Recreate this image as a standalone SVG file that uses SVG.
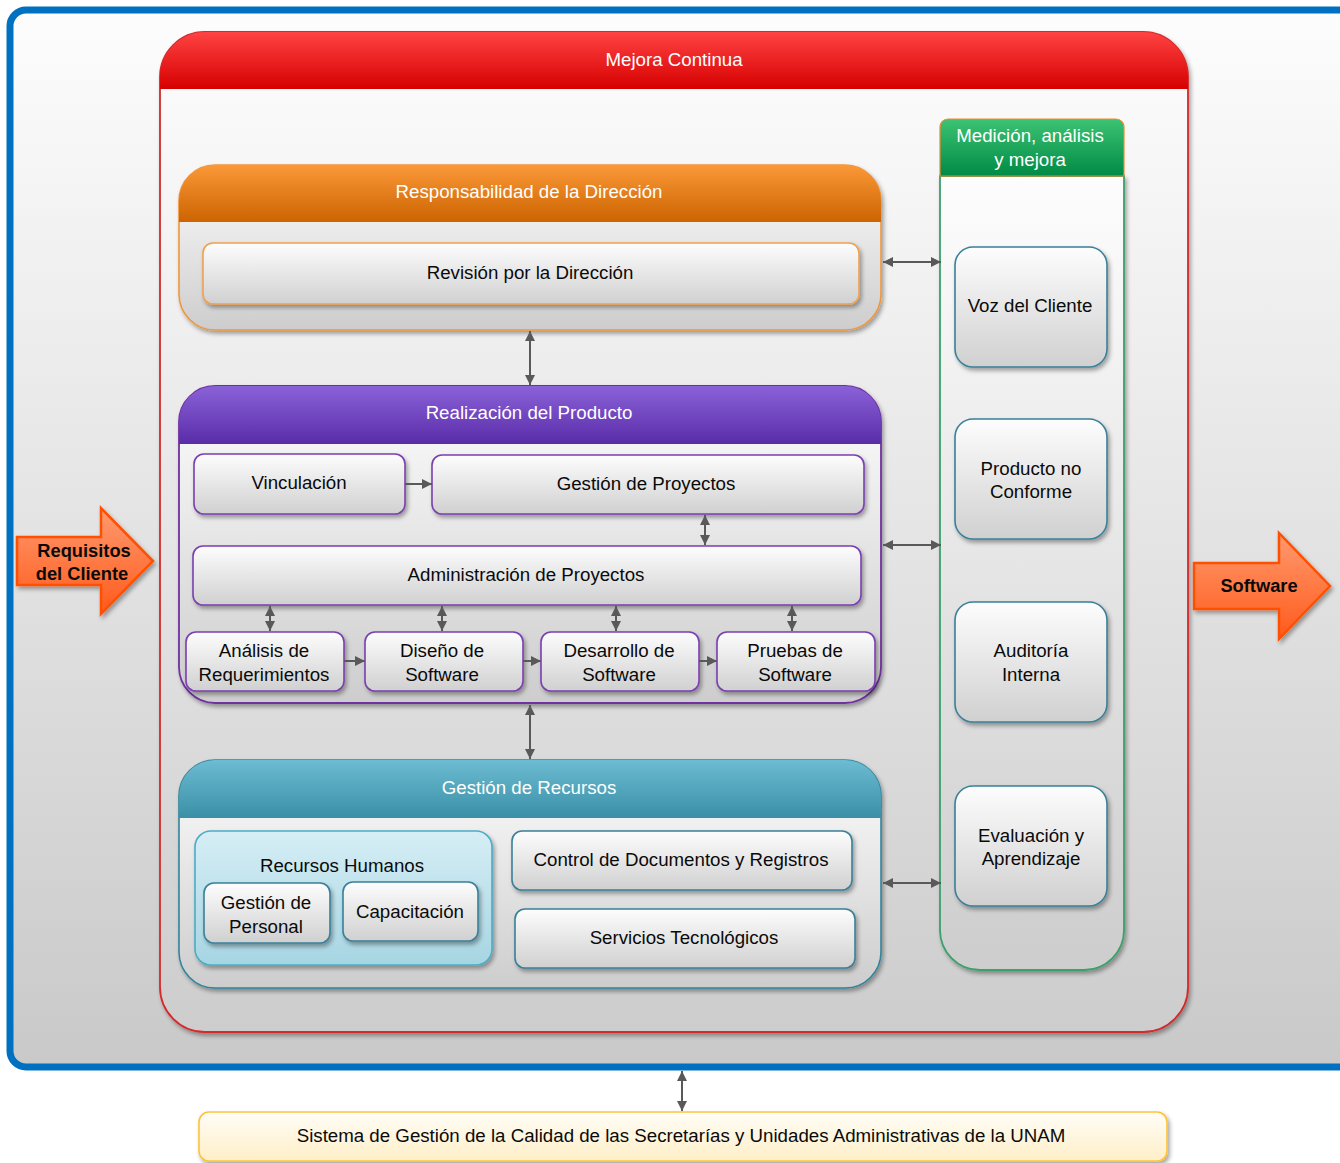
<svg xmlns="http://www.w3.org/2000/svg" width="1340" height="1163" viewBox="0 0 1340 1163">
<defs>
<linearGradient id="gBg" x1="0" y1="0" x2="0" y2="1"><stop offset="0" stop-color="#fdfdfd"/><stop offset="1" stop-color="#c9c9c9"/></linearGradient>
<linearGradient id="gBody" x1="0" y1="0" x2="0" y2="1"><stop offset="0" stop-color="#fdfdfd"/><stop offset="1" stop-color="#cdcdcd"/></linearGradient>
<linearGradient id="gNode" x1="0" y1="0" x2="0" y2="1"><stop offset="0" stop-color="#fdfdfd"/><stop offset="1" stop-color="#d0d0d0"/></linearGradient>
<linearGradient id="gRed" x1="0" y1="0" x2="0" y2="1"><stop offset="0" stop-color="#ff4343"/><stop offset="1" stop-color="#d60000"/></linearGradient>
<linearGradient id="gOrange" x1="0" y1="0" x2="0" y2="1"><stop offset="0" stop-color="#fb9838"/><stop offset="1" stop-color="#cc6400"/></linearGradient>
<linearGradient id="gPurple" x1="0" y1="0" x2="0" y2="1"><stop offset="0" stop-color="#8a62d8"/><stop offset="1" stop-color="#5a2ca8"/></linearGradient>
<linearGradient id="gGreen" x1="0" y1="0" x2="0" y2="1"><stop offset="0" stop-color="#3cc373"/><stop offset="1" stop-color="#008a45"/></linearGradient>
<linearGradient id="gTeal" x1="0" y1="0" x2="0" y2="1"><stop offset="0" stop-color="#6cbcd2"/><stop offset="1" stop-color="#3a8fa6"/></linearGradient>
<linearGradient id="gRH" x1="0" y1="0" x2="0" y2="1"><stop offset="0" stop-color="#d6eef5"/><stop offset="1" stop-color="#a6d5e2"/></linearGradient>
<linearGradient id="gYellow" x1="0" y1="0" x2="0" y2="1"><stop offset="0" stop-color="#fffdf7"/><stop offset="1" stop-color="#ffefc8"/></linearGradient>
<linearGradient id="gArrow" x1="0" y1="0" x2="0" y2="1"><stop offset="0" stop-color="#ff9a70"/><stop offset="0.5" stop-color="#ff7a45"/><stop offset="1" stop-color="#ff5a1c"/></linearGradient>
<filter id="sh" x="-10%" y="-10%" width="130%" height="140%"><feDropShadow dx="2" dy="3" stdDeviation="2" flood-color="#000" flood-opacity="0.35"/></filter>
<marker id="ah" viewBox="0 0 10 10" refX="10" refY="5" markerWidth="11" markerHeight="10" markerUnits="userSpaceOnUse" orient="auto-start-reverse"><path d="M0,0 L10,5 L0,10 Z" fill="#595959"/></marker>
<style>
.hdr{font-family:"Liberation Sans",Arial,sans-serif;font-size:18.7px;fill:#ffffff;text-anchor:middle}
.t{font-family:"Liberation Sans",Arial,sans-serif;font-size:18.7px;fill:#0a0a0a;text-anchor:middle}
.tb{font-family:"Liberation Sans",Arial,sans-serif;font-size:18.3px;font-weight:bold;fill:#0a0a0a;text-anchor:middle}
.node{fill:url(#gNode);filter:url(#sh)}
.np{stroke:#7a3fb0;stroke-width:1.6}
.nt{stroke:#3a8098;stroke-width:1.6}
.conn{stroke:#595959;stroke-width:2;fill:none;marker-end:url(#ah);marker-start:url(#ah)}
.conn1{stroke:#595959;stroke-width:2;fill:none;marker-end:url(#ah)}
</style>
</defs>

<rect x="0" y="0" width="1340" height="1163" fill="#ffffff"/>

<g id="frame">
<rect x="10" y="10" width="1380" height="1057" rx="16" fill="url(#gBg)" stroke="#0070c0" stroke-width="7"/>
</g>

<g id="mejora">
<rect x="160" y="32" width="1028" height="1000" rx="45" fill="url(#gBody)" stroke="#d42a2a" stroke-width="1.8" filter="url(#sh)"/>
<path d="M160,89 L160,77 A45,45 0 0 1 205,32 L1143,32 A45,45 0 0 1 1188,77 L1188,89 Z" fill="url(#gRed)"/>
<text class="hdr" x="674" y="66">Mejora Continua</text>
</g>

<g id="responsabilidad">
<rect x="179" y="165" width="702" height="165" rx="36" fill="url(#gBody)" stroke="#f0963c" stroke-width="1.6" filter="url(#sh)"/>
<path d="M179,222 L179,201 A36,36 0 0 1 215,165 L845,165 A36,36 0 0 1 881,201 L881,222 Z" fill="url(#gOrange)"/>
<text class="hdr" x="529" y="198">Responsabilidad de la Dirección</text>
</g>
<g id="revision">
<rect class="node" x="203" y="243" width="656" height="61" rx="10" stroke="#f0a050" stroke-width="1.6"/>
<text class="t" x="530" y="279">Revisión por la Dirección</text>
</g>

<g id="realizacion">
<rect x="179" y="386" width="702" height="317" rx="36" fill="url(#gBody)" stroke="#7030a0" stroke-width="1.8" filter="url(#sh)"/>
<path d="M179,444 L179,422 A36,36 0 0 1 215,386 L845,386 A36,36 0 0 1 881,422 L881,444 Z" fill="url(#gPurple)"/>
<text class="hdr" x="529" y="419">Realización del Producto</text>
</g>
<g id="vinculacion"><rect class="node np" x="194" y="454" width="211" height="60" rx="10"/><text class="t" x="299" y="489">Vinculación</text></g>
<g id="gestion-proyectos"><rect class="node np" x="432" y="455" width="432" height="59" rx="10"/><text class="t" x="646" y="490">Gestión de Proyectos</text></g>
<g id="administracion"><rect class="node np" x="193" y="546" width="668" height="59" rx="10"/><text class="t" x="526" y="581">Administración de Proyectos</text></g>
<g id="analisis"><rect class="node np" x="186" y="632" width="158" height="59" rx="10"/><text class="t" x="264" y="657">Análisis de</text><text class="t" x="264" y="681">Requerimientos</text></g>
<g id="diseno"><rect class="node np" x="365" y="632" width="158" height="59" rx="10"/><text class="t" x="442" y="657">Diseño de</text><text class="t" x="442" y="681">Software</text></g>
<g id="desarrollo"><rect class="node np" x="541" y="632" width="158" height="59" rx="10"/><text class="t" x="619" y="657">Desarrollo de</text><text class="t" x="619" y="681">Software</text></g>
<g id="pruebas"><rect class="node np" x="717" y="632" width="158" height="59" rx="10"/><text class="t" x="795" y="657">Pruebas de</text><text class="t" x="795" y="681">Software</text></g>

<g id="recursos">
<rect x="179" y="760" width="702" height="228" rx="36" fill="url(#gBody)" stroke="#31849b" stroke-width="1.6" filter="url(#sh)"/>
<path d="M179,818 L179,796 A36,36 0 0 1 215,760 L845,760 A36,36 0 0 1 881,796 L881,818 Z" fill="url(#gTeal)"/>
<text class="hdr" x="529" y="794">Gestión de Recursos</text>
</g>
<g id="recursos-humanos">
<rect x="195" y="831" width="297" height="134" rx="16" fill="url(#gRH)" stroke="#4bacc6" stroke-width="1.6" filter="url(#sh)"/>
<text class="t" x="342" y="872">Recursos Humanos</text>
</g>
<g id="gestion-personal"><rect class="node nt" x="204" y="883" width="126" height="60" rx="10"/><text class="t" x="266" y="909">Gestión de</text><text class="t" x="266" y="933">Personal</text></g>
<g id="capacitacion"><rect class="node nt" x="343" y="882" width="135" height="59" rx="10"/><text class="t" x="410" y="918">Capacitación</text></g>
<g id="control"><rect class="node nt" x="512" y="831" width="340" height="59" rx="10"/><text class="t" x="681" y="866">Control de Documentos y Registros</text></g>
<g id="servicios"><rect class="node nt" x="515" y="909" width="340" height="59" rx="10"/><text class="t" x="684" y="944">Servicios Tecnológicos</text></g>

<g id="medicion">
<path d="M940,176 L940,930 A40,40 0 0 0 980,970 L1084,970 A40,40 0 0 0 1124,930 L1124,176 Z" fill="url(#gBody)" stroke="#3aa06a" stroke-width="1.8" filter="url(#sh)"/>
<path d="M940,176 L940,127 A8,8 0 0 1 948,119 L1116,119 A8,8 0 0 1 1124,127 L1124,176 Z" fill="url(#gGreen)" stroke="#f08a30" stroke-width="1.2"/>
<text class="hdr" x="1030" y="142">Medición, análisis</text>
<text class="hdr" x="1030" y="166">y mejora</text>
</g>
<g id="voz"><rect class="node nt" x="955" y="247" width="152" height="120" rx="18"/><text class="t" x="1030" y="312">Voz del Cliente</text></g>
<g id="producto"><rect class="node nt" x="955" y="419" width="152" height="120" rx="18"/><text class="t" x="1031" y="475">Producto no</text><text class="t" x="1031" y="498">Conforme</text></g>
<g id="auditoria"><rect class="node nt" x="955" y="602" width="152" height="120" rx="18"/><text class="t" x="1031" y="657">Auditoría</text><text class="t" x="1031" y="681">Interna</text></g>
<g id="evaluacion"><rect class="node nt" x="955" y="786" width="152" height="120" rx="18"/><text class="t" x="1031" y="842">Evaluación y</text><text class="t" x="1031" y="865">Aprendizaje</text></g>

<g id="requisitos">
<polygon points="17,537 101,537 101,508 153,561 101,614 101,585 17,585" fill="url(#gArrow)" stroke="#ff5000" stroke-width="2.5" stroke-linejoin="miter" filter="url(#sh)"/>
<text class="tb" x="84" y="557">Requisitos</text>
<text class="tb" x="82" y="580">del Cliente</text>
</g>
<g id="software">
<polygon points="1194,563 1279,563 1279,533 1330,586 1279,639 1279,609 1194,609" fill="url(#gArrow)" stroke="#ff5000" stroke-width="2.5" filter="url(#sh)"/>
<text class="tb" x="1259" y="592">Software</text>
</g>

<g id="sistema">
<rect x="199" y="1112" width="968" height="49" rx="10" fill="url(#gYellow)" stroke="#ffc33a" stroke-width="1.6" filter="url(#sh)"/>
<text class="t" x="681" y="1142">Sistema de Gestión de la Calidad de las Secretarías y Unidades Administrativas de la UNAM</text>
</g>

<g id="connectors">
<line class="conn" x1="530" y1="331" x2="530" y2="385"/>
<line class="conn" x1="530" y1="705" x2="530" y2="759"/>
<line class="conn" x1="883" y1="262" x2="941" y2="262"/>
<line class="conn" x1="883" y1="545" x2="941" y2="545"/>
<line class="conn" x1="883" y1="883" x2="941" y2="883"/>
<line class="conn1" x1="405" y1="484" x2="432" y2="484"/>
<line class="conn" x1="705" y1="515" x2="705" y2="545"/>
<line class="conn" x1="270" y1="606" x2="270" y2="631"/>
<line class="conn" x1="442" y1="606" x2="442" y2="631"/>
<line class="conn" x1="616" y1="606" x2="616" y2="631"/>
<line class="conn" x1="792" y1="606" x2="792" y2="631"/>
<line class="conn1" x1="344" y1="661" x2="365" y2="661"/>
<line class="conn1" x1="523" y1="661" x2="541" y2="661"/>
<line class="conn1" x1="699" y1="661" x2="717" y2="661"/>
<line class="conn" x1="682" y1="1071" x2="682" y2="1111"/>
</g>
</svg>
